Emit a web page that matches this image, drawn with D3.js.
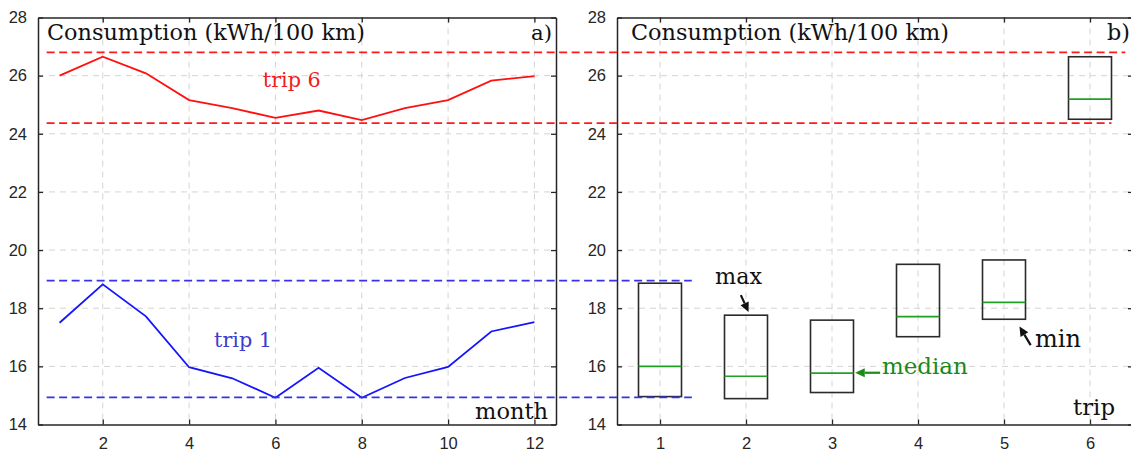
<!DOCTYPE html>
<html>
<head>
<meta charset="utf-8">
<script src="https://cdn.jsdelivr.net/npm/d3@7"></script>
<style>
  html, body { margin: 0; padding: 0; background: #fff; }
  svg { display: block; }
</style>
</head>
<body>
<svg id="chart" width="1131" height="455"></svg>
<script>
// ---------------- data ----------------
const months = [1, 2, 3, 4, 5, 6, 7, 8, 9, 10, 11, 12];
const trip6Values = [26.0, 26.65, 26.08, 25.16, 24.88, 24.55, 24.8, 24.47, 24.88, 25.16, 25.83, 25.98];
const trip1Values = [17.5, 18.82, 17.72, 15.97, 15.59, 14.92, 15.95, 14.92, 15.6, 15.98, 17.2, 17.52];

const trips = [1, 2, 3, 4, 5, 6];
const boxMin = [14.96, 14.89, 15.10, 17.02, 17.62, 24.5];
const boxMedian = [16.0, 15.66, 15.77, 17.71, 18.2, 25.19];
const boxMax = [18.86, 17.76, 17.59, 19.51, 19.66, 26.65];

const yTicks = [14, 16, 18, 20, 22, 24, 26, 28];
const monthTicks = [2, 4, 6, 8, 10, 12];
const tripTicks = [1, 2, 3, 4, 5, 6];

// reference lines: value, colour, start month, end trip
const refValues = [26.8, 24.37, 18.95, 14.93];
const refColors = ["#ff1a1a", "#ff1a1a", "#3434e6", "#3434e6"];
const refStartMonth = [0.7, 0.7, 0.7, 0.7];
const refEndTrip = [6.41, 6.25, 1.37, 1.37];

const annoLabels = ["max", "median", "min"];
const annoText = [[1.64, 18.83], [3.58, 15.74], [5.36, 16.67]];
const annoFrom = [[1.94, 18.45], [3.56, 15.78], [5.31, 16.73]];
const annoTo = [[2.03, 17.87], [3.27, 15.78], [5.18, 17.37]];
const annoColors = ["#111", "#1a8a1a", "#111"];

// ---------------- layout ----------------
const svg = d3.select("#chart");
const yTop = 17.5, yBot = 424.5;
const y = d3.scaleLinear().domain([14, 28]).range([yBot, yTop]);
const xL = d3.scaleLinear().domain([0.5, 12.5]).range([38, 556]);
const xR = d3.scaleLinear().domain([0.5, 6.5]).range([617, 1133]);

const axisColor = "#262626";
const gridColor = "#d4d4d4";
const tickFont = "'Liberation Sans', Arial, sans-serif";
const serifFont = "'DejaVu Serif', serif";

function drawFrame(x, xt) {
  const g = svg.append("g");
  const [x0, x1] = x.range();
  // grid
  g.selectAll(".gh").data(yTicks.filter(d => d > 14 && d < 28)).enter()
    .append("line").attr("x1", x0).attr("x2", x1)
    .attr("y1", d => y(d)).attr("y2", d => y(d))
    .attr("stroke", gridColor).attr("stroke-width", 1).attr("stroke-dasharray", "6,5");
  g.selectAll(".gv").data(xt).enter()
    .append("line").attr("x1", d => x(d)).attr("x2", d => x(d))
    .attr("y1", yTop).attr("y2", yBot)
    .attr("stroke", gridColor).attr("stroke-width", 1).attr("stroke-dasharray", "6,5");
  // axes via d3 axis (inward ticks)
  const left = d3.axisLeft(y).tickValues(yTicks).tickSizeInner(-5).tickSizeOuter(0).tickPadding(11);
  const bottom = d3.axisBottom(x).tickValues(xt).tickSizeInner(-5).tickSizeOuter(0).tickPadding(13).tickFormat(d3.format("d"));
  const top = d3.axisTop(x).tickValues(xt).tickSizeInner(-5).tickSizeOuter(0).tickFormat("");
  const right = d3.axisRight(y).tickValues(yTicks).tickSizeInner(-5).tickSizeOuter(0).tickFormat("");
  const ga = g.append("g").attr("transform", `translate(${x0},0)`).call(left);
  const gb = g.append("g").attr("transform", `translate(0,${yBot})`).call(bottom);
  const gt = g.append("g").attr("transform", `translate(0,${yTop})`).call(top);
  const gr = g.append("g").attr("transform", `translate(${x1},0)`).call(right);
  [ga, gb, gt, gr].forEach(s => {
    s.select(".domain").attr("stroke", axisColor).attr("stroke-width", 1.5);
    s.selectAll(".tick line").attr("stroke", axisColor).attr("stroke-width", 1.3);
    s.selectAll(".tick text").attr("fill", axisColor).style("font-family", tickFont).style("font-size", "16.5px");
  });
  return g;
}

drawFrame(xL, monthTicks);
drawFrame(xR, tripTicks);

// ---------------- left panel lines ----------------
const line = d3.line().x((d, i) => xL(months[i])).y(d => y(d));
svg.append("path").datum(trip6Values).attr("d", line)
  .attr("fill", "none").attr("stroke", "#ff1010").attr("stroke-width", 1.8);
svg.append("path").datum(trip1Values).attr("d", line)
  .attr("fill", "none").attr("stroke", "#1414ff").attr("stroke-width", 1.8);

// ---------------- right panel boxes ----------------
const boxW = 0.5;
const gBox = svg.append("g");
gBox.selectAll("rect").data(trips).enter().append("rect")
  .attr("x", (d) => xR(d - boxW / 2))
  .attr("width", (d) => xR(d + boxW / 2) - xR(d - boxW / 2))
  .attr("y", (d, i) => y(boxMax[i]))
  .attr("height", (d, i) => y(boxMin[i]) - y(boxMax[i]))
  .attr("fill", "none").attr("stroke", "#2a2a2a").attr("stroke-width", 1.6);
gBox.selectAll(".med").data(trips).enter().append("line")
  .attr("x1", d => xR(d - boxW / 2)).attr("x2", d => xR(d + boxW / 2))
  .attr("y1", (d, i) => y(boxMedian[i])).attr("y2", (d, i) => y(boxMedian[i]))
  .attr("stroke", "#22a022").attr("stroke-width", 1.7);

// ---------------- reference dashed lines ----------------
svg.selectAll(".ref").data(refValues).enter().append("line")
  .attr("x1", (d, i) => xL(refStartMonth[i]))
  .attr("x2", (d, i) => xR(refEndTrip[i]))
  .attr("y1", d => y(d)).attr("y2", d => y(d))
  .attr("stroke", (d, i) => refColors[i]).attr("stroke-width", 1.8)
  .attr("stroke-dasharray", "8,4.5");

// ---------------- texts ----------------
function serifText(x, yy, txt, color, size, anchor) {
  return svg.append("text").attr("x", x).attr("y", yy).text(txt)
    .attr("fill", color).attr("text-anchor", anchor || "start")
    .style("font-family", serifFont).style("font-size", size + "px");
}
function fit(sel, w) {
  const len = sel.node().getComputedTextLength();
  const fs = parseFloat(sel.style("font-size"));
  sel.style("font-size", (fs * w / len) + "px");
}
fit(serifText(47, 40, "Consumption (kWh/100 km)", "#111", 21), 318);
fit(serifText(631, 40, "Consumption (kWh/100 km)", "#111", 21), 318);
fit(serifText(552, 40, "a)", "#111", 21, "end"), 21);
fit(serifText(1130, 40, "b)", "#111", 21, "end"), 23);
fit(serifText(548, 419, "month", "#111", 21, "end"), 73);
fit(serifText(1115, 415, "trip", "#111", 21, "end"), 42);
fit(serifText(xL(6.38), y(25.6), "trip 6", "#ee2020", 21, "middle"), 58);
fit(serifText(xL(5.25), y(16.67), "trip 1", "#3c3cd0", 21, "middle"), 58);

// ---------------- annotations ----------------
annoLabels.forEach((lab, i) => {
  const t = serifText(xR(annoText[i][0]), y(annoText[i][1]), lab, annoColors[i], 21);
  fit(t, [47, 86, 46][i]);
  const x1 = xR(annoFrom[i][0]), y1 = y(annoFrom[i][1]);
  const x2 = xR(annoTo[i][0]), y2 = y(annoTo[i][1]);
  const ang = Math.atan2(y2 - y1, x2 - x1);
  const hl = 9.5, hw = 4.5;
  const bx = x2 - hl * Math.cos(ang), by = y2 - hl * Math.sin(ang);
  svg.append("line").attr("x1", x1).attr("y1", y1).attr("x2", bx).attr("y2", by)
    .attr("stroke", annoColors[i]).attr("stroke-width", 2.2);
  const px = -Math.sin(ang), py = Math.cos(ang);
  svg.append("path")
    .attr("d", `M${x2},${y2}L${bx + hw * px},${by + hw * py}L${bx - hw * px},${by - hw * py}Z`)
    .attr("fill", annoColors[i]);
});
</script>
</body>
</html>
